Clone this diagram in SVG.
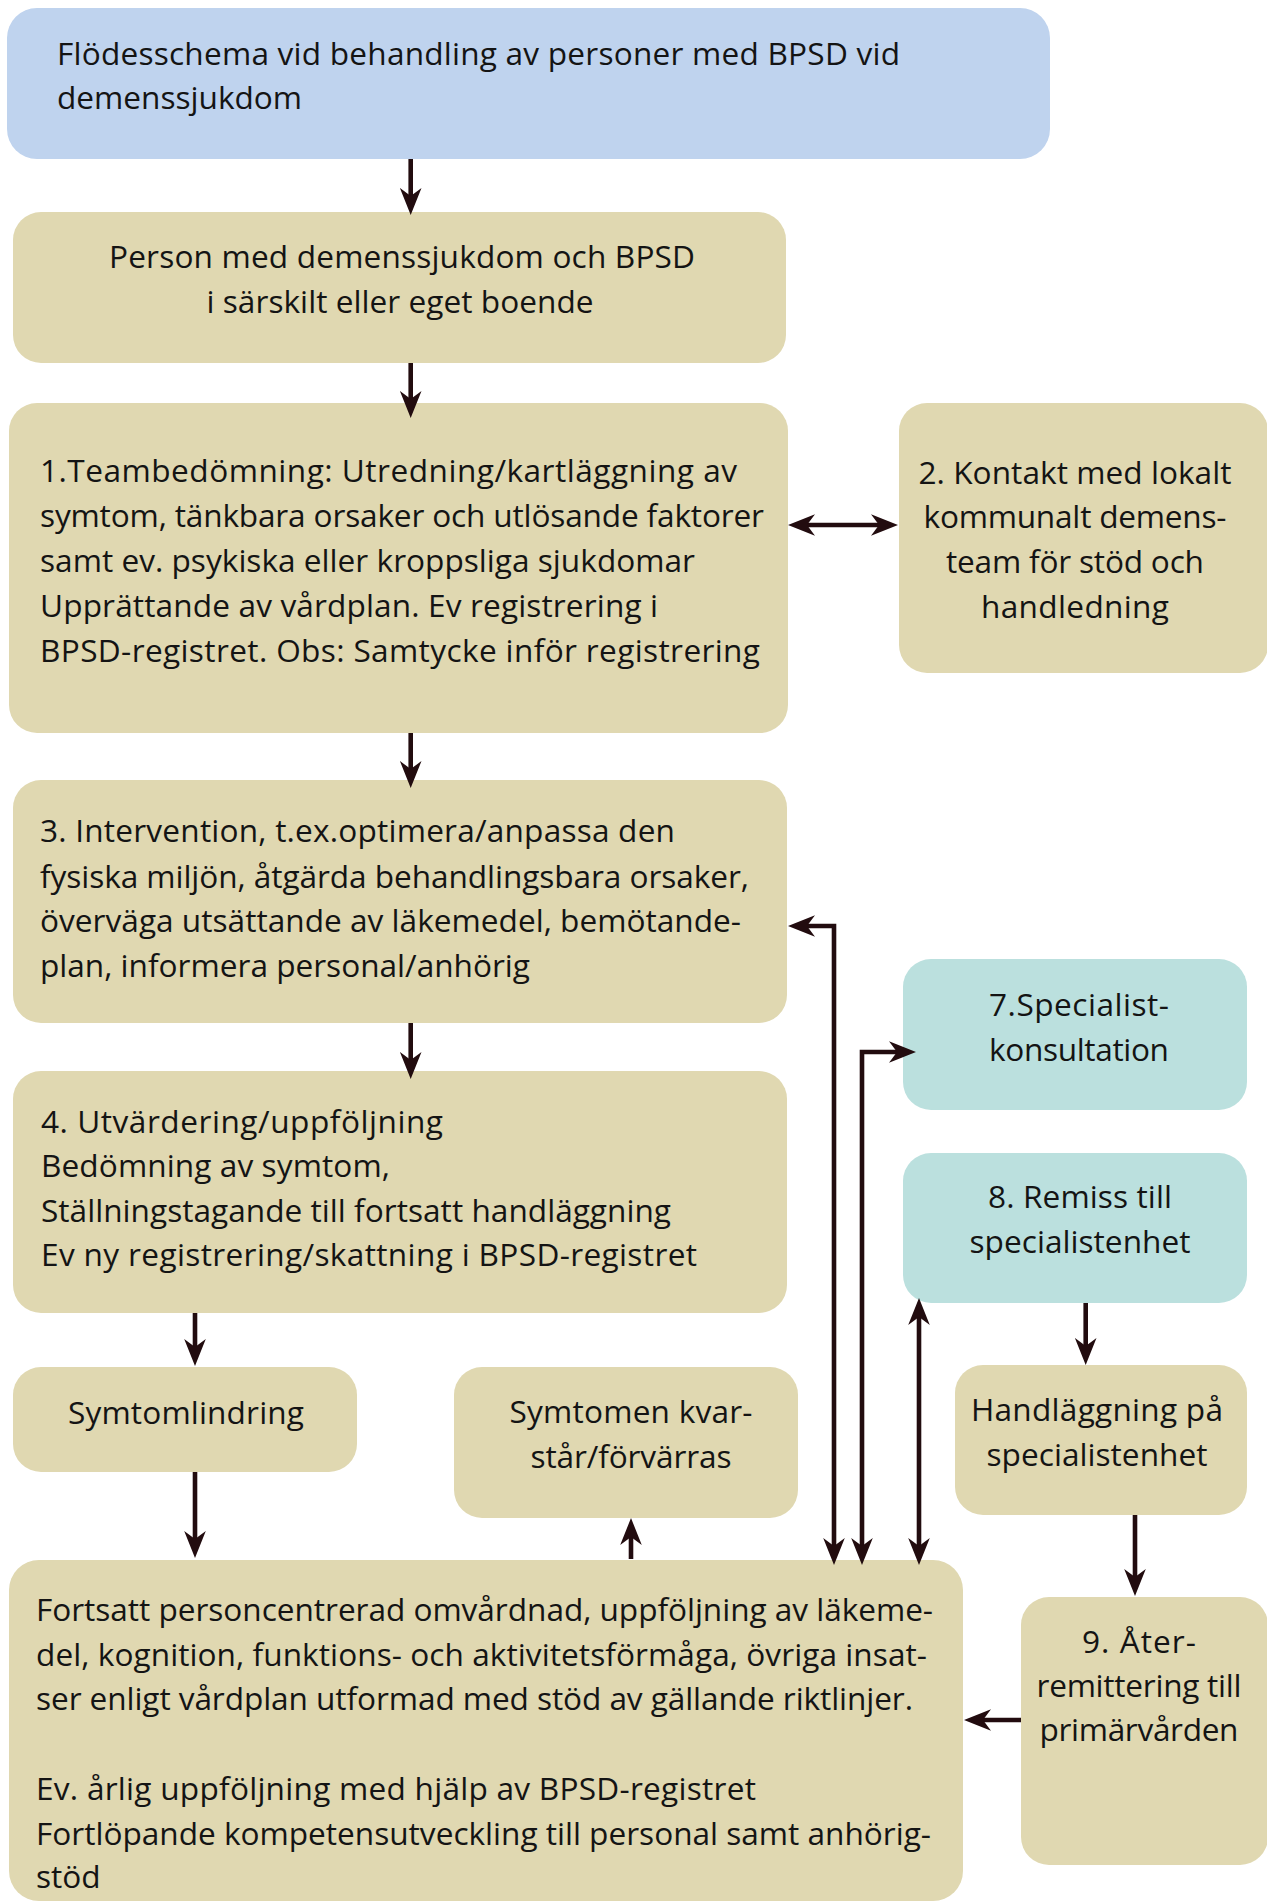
<svg xmlns="http://www.w3.org/2000/svg" width="1267" height="1903" viewBox="0 0 1267 1903">
<style>
  .box { fill: #E0D8B1; }
  .blue { fill: #BFD3EE; }
  .teal { fill: #BBE0DE; }
  text { font-family: "Open Sans", "Noto Sans", sans-serif; font-size: 31.6px; fill: #141414; }
  .c { text-anchor: middle; }
  .conn { fill: none; stroke: #220c0f; stroke-width: 4.6; stroke-linejoin: miter; }
</style>
<defs>
  <marker id="ah" viewBox="-12 -11 28 22" refX="0" refY="0" markerWidth="28" markerHeight="22" markerUnits="userSpaceOnUse" orient="auto-start-reverse">
    <path d="M15,0 L-12,-10.8 L-4,0 L-12,10.8 Z" fill="#220c0f"/>
  </marker>
</defs>
<rect width="1267" height="1903" fill="#ffffff"/>

<g id="title">
  <rect class="blue" x="7" y="8" width="1043" height="151" rx="30"/>
  <text x="57" y="65" textLength="843">Flödesschema vid behandling av personer med BPSD vid</text>
  <text x="57" y="109">demenssjukdom</text>
</g>
<g id="person">
  <rect class="box" x="13" y="212" width="773" height="151" rx="28"/>
  <text class="c" x="402" y="268" textLength="586">Person med demenssjukdom och BPSD</text>
  <text class="c" x="400" y="313" textLength="387">i särskilt eller eget boende</text>
</g>
<g id="n1">
  <rect class="box" x="9" y="403" width="779" height="330" rx="28"/>
  <text x="40" y="482" textLength="697">1.Teambedömning: Utredning/kartläggning av</text>
  <text x="40" y="527" textLength="724">symtom, tänkbara orsaker och utlösande faktorer</text>
  <text x="40" y="572" textLength="655">samt ev. psykiska eller kroppsliga sjukdomar</text>
  <text x="40" y="617" textLength="618">Upprättande av vårdplan. Ev registrering i</text>
  <text x="40" y="662" textLength="720">BPSD-registret. Obs: Samtycke inför registrering</text>
</g>
<g id="n2">
  <rect class="box" x="899" y="403" width="369" height="270" rx="28"/>
  <text class="c" x="1075" y="484" textLength="313">2. Kontakt med lokalt</text>
  <text class="c" x="1075" y="528" textLength="303">kommunalt demens-</text>
  <text class="c" x="1075" y="573" textLength="258">team för stöd och</text>
  <text class="c" x="1075" y="618" textLength="188">handledning</text>
</g>
<g id="n3">
  <rect class="box" x="13" y="780" width="774" height="243" rx="28"/>
  <text x="40" y="842" textLength="635">3. Intervention, t.ex.optimera/anpassa den</text>
  <text x="40" y="888" textLength="709">fysiska miljön, åtgärda behandlingsbara orsaker,</text>
  <text x="40" y="932" textLength="701">överväga utsättande av läkemedel, bemötande-</text>
  <text x="40" y="977" textLength="490">plan, informera personal/anhörig</text>
</g>
<g id="n7">
  <rect class="teal" x="903" y="959" width="344" height="151" rx="28"/>
  <text class="c" x="1079" y="1016" textLength="180">7.Specialist-</text>
  <text class="c" x="1079" y="1061" textLength="180">konsultation</text>
</g>
<g id="n4">
  <rect class="box" x="13" y="1071" width="774" height="242" rx="28"/>
  <text x="41" y="1133" textLength="402">4. Utvärdering/uppföljning</text>
  <text x="41" y="1177" textLength="349">Bedömning av symtom,</text>
  <text x="41" y="1222" textLength="630">Ställningstagande till fortsatt handläggning</text>
  <text x="41" y="1266" textLength="656">Ev ny registrering/skattning i BPSD-registret</text>
</g>
<g id="n8">
  <rect class="teal" x="903" y="1153" width="344" height="150" rx="28"/>
  <text class="c" x="1080" y="1208" textLength="184">8. Remiss till</text>
  <text class="c" x="1080" y="1253" textLength="221">specialistenhet</text>
</g>
<g id="symtomlindring">
  <rect class="box" x="13" y="1367" width="344" height="105" rx="28"/>
  <text class="c" x="186" y="1424" textLength="236">Symtomlindring</text>
</g>
<g id="symtomen">
  <rect class="box" x="454" y="1367" width="344" height="151" rx="28"/>
  <text class="c" x="631" y="1423" textLength="243">Symtomen kvar-</text>
  <text class="c" x="631" y="1468" textLength="201">står/förvärras</text>
</g>
<g id="handlaggning">
  <rect class="box" x="955" y="1365" width="292" height="150" rx="28"/>
  <text class="c" x="1097" y="1421" textLength="252">Handläggning på</text>
  <text class="c" x="1097" y="1466" textLength="221">specialistenhet</text>
</g>
<g id="fortsatt">
  <rect class="box" x="9" y="1560" width="954" height="341" rx="30"/>
  <text x="36" y="1621" textLength="897">Fortsatt personcentrerad omvårdnad, uppföljning av läkeme-</text>
  <text x="36" y="1666" textLength="891">del, kognition, funktions- och aktivitetsförmåga, övriga insat-</text>
  <text x="36" y="1710" textLength="877">ser enligt vårdplan utformad med stöd av gällande riktlinjer.</text>
  <text x="36" y="1800" textLength="720">Ev. årlig uppföljning med hjälp av BPSD-registret</text>
  <text x="36" y="1845" textLength="895">Fortlöpande kompetensutveckling till personal samt anhörig-</text>
  <text x="36" y="1888">stöd</text>
</g>
<g id="n9">
  <rect class="box" x="1021" y="1597" width="247" height="268" rx="28"/>
  <text class="c" x="1139" y="1653" textLength="114">9. Åter-</text>
  <text class="c" x="1139" y="1697" textLength="205">remittering till</text>
  <text class="c" x="1139" y="1741" textLength="199">primärvården</text>
</g>

<g id="connectors">
  <path class="conn" d="M410.7,159 V200" marker-end="url(#ah)"/>
  <path class="conn" d="M410.7,363 V403" marker-end="url(#ah)"/>
  <path class="conn" d="M803,525 H883" marker-start="url(#ah)" marker-end="url(#ah)"/>
  <path class="conn" d="M410.7,733 V773" marker-end="url(#ah)"/>
  <path class="conn" d="M410.7,1023 V1064" marker-end="url(#ah)"/>
  <path class="conn" d="M195,1313 V1351" marker-end="url(#ah)"/>
  <path class="conn" d="M195,1472 V1543" marker-end="url(#ah)"/>
  <path class="conn" d="M631,1559 V1533" marker-end="url(#ah)"/>
  <path class="conn" d="M834,1550 V926 H803" marker-start="url(#ah)" marker-end="url(#ah)"/>
  <path class="conn" d="M862,1550 V1052 H901" marker-start="url(#ah)" marker-end="url(#ah)"/>
  <path class="conn" d="M919,1550 V1313" marker-start="url(#ah)" marker-end="url(#ah)"/>
  <path class="conn" d="M1085.7,1303 V1350" marker-end="url(#ah)"/>
  <path class="conn" d="M1135,1515 V1581" marker-end="url(#ah)"/>
  <path class="conn" d="M1021,1720 H979" marker-end="url(#ah)"/>
</g>
</svg>
